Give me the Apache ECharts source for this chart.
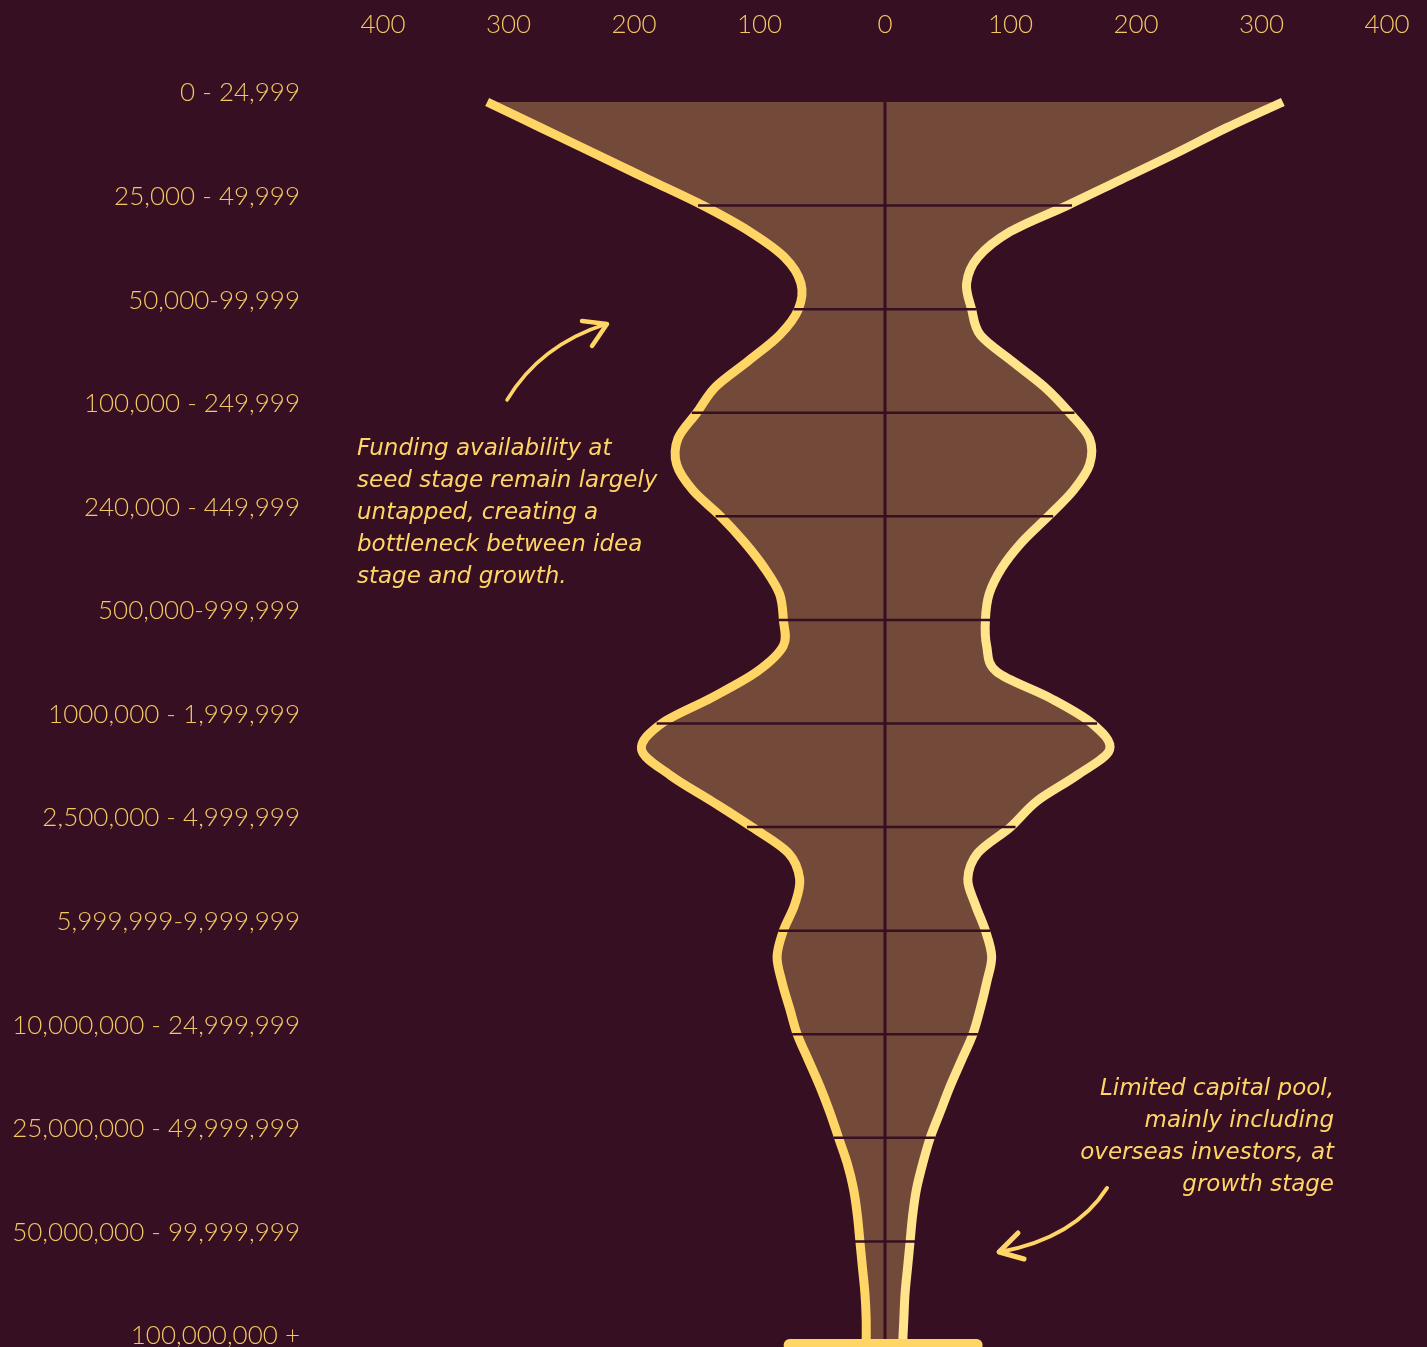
<!DOCTYPE html>
<html>
<head>
<meta charset="utf-8">
<script src="https://cdn.jsdelivr.net/npm/echarts@6/dist/echarts.min.js"></script>
<style>
  html, body { margin: 0; padding: 0; background: #360F22; }
  #chart { width: 1427px; height: 1347px; }
</style>
</head>
<body>
<div id="chart"></div>
<script>
// ---------- DATA ----------
const bandLabels = [
  '0 - 24,999', '25,000 - 49,999', '50,000-99,999', '100,000 - 249,999',
  '240,000 - 449,999', '500,000-999,999', '1000,000 - 1,999,999',
  '2,500,000 - 4,999,999', '5,999,999-9,999,999', '10,000,000 - 24,999,999',
  '25,000,000 - 49,999,999', '50,000,000 - 99,999,999', '100,000,000 +'
];
const xTicks = [-400, -300, -200, -100, 0, 100, 200, 300, 400];
const stepsPerBand = 4;

// outline of the shape, read at quarter steps between category lines (left side negative)
const leftOutline = [
  -317, -274, -231, -188, -145,
  -108, -80, -67, -69,
  -84, -109, -135, -150,
  -165, -166, -153, -131,
  -112, -96, -84, -81,
  -81, -102, -138, -178,
  -194, -171, -138, -106,
  -77, -68, -72, -81,
  -86, -82, -76, -70,
  -61, -52, -44, -37,
  -30, -25, -22, -20,
  -18, -16, -15, -15
];
const rightOutline = [
  317, 272, 231, 188, 145,
  100, 74, 65, 69,
  76, 101, 127, 147,
  163, 163, 150, 130,
  109, 93, 83, 80,
  81, 89, 131, 165,
  179, 153, 121, 100,
  74, 66, 72, 80,
  85, 81, 76, 70,
  61, 52, 44, 36,
  30, 25, 22, 20,
  18, 16, 15, 14
];
const baseBar = [-76, 73];

// ---------- BUILD ----------
const BG = '#360F22';
const FILL = '#734A3A';
const GOLD = '#FFD666';
const LIGHT = '#FFE48C';
const TEXT = '#F3C862';
const last = bandLabels.length - 1;

const dividerData = [];
for (let c = 1; c < last; c++) {
  dividerData.push([leftOutline[c * stepsPerBand], c, rightOutline[c * stepsPerBand]]);
}

// Catmull-Rom spline through pixel points -> SVG path commands
function splinePath(pts, moveFirst) {
  let d = (moveFirst ? 'M' : 'L') + pts[0][0].toFixed(2) + ' ' + pts[0][1].toFixed(2);
  for (let i = 0; i < pts.length - 1; i++) {
    const p0 = pts[Math.max(i - 1, 0)], p1 = pts[i], p2 = pts[i + 1], p3 = pts[Math.min(i + 2, pts.length - 1)];
    const c1x = p1[0] + (p2[0] - p0[0]) / 6, c1y = p1[1] + (p2[1] - p0[1]) / 6;
    const c2x = p2[0] - (p3[0] - p1[0]) / 6, c2y = p2[1] - (p3[1] - p1[1]) / 6;
    d += ' C' + c1x.toFixed(2) + ' ' + c1y.toFixed(2) + ' ' + c2x.toFixed(2) + ' ' + c2y.toFixed(2) + ' ' + p2[0].toFixed(2) + ' ' + p2[1].toFixed(2);
  }
  return d;
}

function renderViolin(params, api) {
  const n = leftOutline.length;
  const L = [], R = [];
  const yTop = api.coord([0, 0])[1], yBot = api.coord([0, last])[1];
  for (let i = 0; i < n; i++) {
    const pos = i / stepsPerBand;           // position along the category axis
    const yPix = yTop + (yBot - yTop) * pos / last;
    L.push([api.coord([leftOutline[i], 0])[0], yPix]);
    R.push([api.coord([rightOutline[i], 0])[0], yPix]);
  }
  const Rrev = R.slice().reverse();
  const fillPath = splinePath(L, true) + ' ' + splinePath(Rrev, false) + ' Z';
  return {
    type: 'group',
    children: [
      { type: 'path', shape: { pathData: fillPath }, style: { fill: FILL, stroke: null }, z2: 1 },
      { type: 'path', shape: { pathData: splinePath(L, true) },
        style: { fill: null, stroke: GOLD, lineWidth: 9, lineCap: 'butt', lineJoin: 'round' }, z2: 3 },
      { type: 'path', shape: { pathData: splinePath(R, true) },
        style: { fill: null, stroke: LIGHT, lineWidth: 9, lineCap: 'butt', lineJoin: 'round' }, z2: 3 }
    ]
  };
}

const chart = echarts.init(document.getElementById('chart'), null, { renderer: 'canvas' });
chart.setOption({
  backgroundColor: BG,
  animation: false,
  grid: { left: 383, right: 40, top: 102, bottom: 2, containLabel: false, outerBoundsMode: 'none' },
  xAxis: {
    type: 'value', position: 'top',
    min: xTicks[0], max: xTicks[xTicks.length - 1], interval: 100,
    axisLine: { show: false }, axisTick: { show: false }, splitLine: { show: false },
    axisLabel: {
      color: TEXT, fontFamily: 'Lato', fontWeight: 300, fontSize: 26, margin: 64,
      formatter: v => String(Math.abs(v))
    }
  },
  yAxis: {
    type: 'category', data: bandLabels, inverse: true, boundaryGap: false,
    axisLine: { show: false }, axisTick: { show: false }, splitLine: { show: false },
    axisLabel: {
      color: TEXT, fontFamily: 'Lato', fontWeight: 300, fontSize: 26,
      margin: 83, verticalAlign: 'bottom', lineHeight: 18, interval: 0
    }
  },
  series: [
    {
      name: 'violin', type: 'custom', z: 2, clip: false,
      data: [[0, 0]],
      renderItem: renderViolin
    },
    {
      name: 'center', type: 'line',
      data: [[0, 0], [0, last]], symbol: 'none', z: 4,
      lineStyle: { color: BG, width: 3 }
    },
    {
      name: 'dividers', type: 'custom', z: 5,
      data: dividerData,
      encode: { x: [0, 2], y: 1 },
      renderItem: function (params, api) {
        const c = api.value(1);
        const a = api.coord([api.value(0), c]);
        const b = api.coord([api.value(2), c]);
        return {
          type: 'line',
          shape: { x1: a[0] - 5, y1: a[1], x2: b[0] + 5, y2: b[1] },
          style: { stroke: BG, lineWidth: 2.5 }
        };
      }
    },
    {
      name: 'base', type: 'line',
      data: [[baseBar[0], last], [baseBar[1], last]], symbol: 'none', z: 6,
      lineStyle: { color: GOLD, width: 12, cap: 'round' }
    }
  ],
  graphic: [
    {
      type: 'text', x: 357, y: 433, z: 10,
      style: {
        text: 'Funding availability at\nseed stage remain largely\nuntapped, creating a\nbottleneck between idea\nstage and growth.',
        fill: GOLD, fontFamily: 'DejaVu Sans', fontStyle: 'italic',
        fontSize: 23, lineHeight: 32, align: 'left', verticalAlign: 'top'
      }
    },
    {
      type: 'text', x: 1334, y: 1073, z: 10,
      style: {
        text: 'Limited capital pool,\nmainly including\noverseas investors, at\ngrowth stage',
        fill: GOLD, fontFamily: 'DejaVu Sans', fontStyle: 'italic',
        fontSize: 23, lineHeight: 32, align: 'right', verticalAlign: 'top'
      }
    },
    {
      type: 'bezierCurve', z: 10,
      shape: { x1: 507, y1: 400, cpx1: 540, cpy1: 345, x2: 606, y2: 324 },
      style: { stroke: GOLD, lineWidth: 3.5, fill: null, lineCap: 'round' }
    },
    {
      type: 'polyline', z: 10,
      shape: { points: [[582, 321], [607, 324], [592, 346]] },
      style: { stroke: GOLD, lineWidth: 4.5, fill: null, lineCap: 'round', lineJoin: 'round' }
    },
    {
      type: 'bezierCurve', z: 10,
      shape: { x1: 1107, y1: 1188, cpx1: 1075, cpy1: 1238, x2: 1000, y2: 1252 },
      style: { stroke: GOLD, lineWidth: 4, fill: null, lineCap: 'round' }
    },
    {
      type: 'polyline', z: 10,
      shape: { points: [[1018, 1233], [999, 1252], [1024, 1259]] },
      style: { stroke: GOLD, lineWidth: 5, fill: null, lineCap: 'round', lineJoin: 'round' }
    }
  ]
});
</script>
</body>
</html>
